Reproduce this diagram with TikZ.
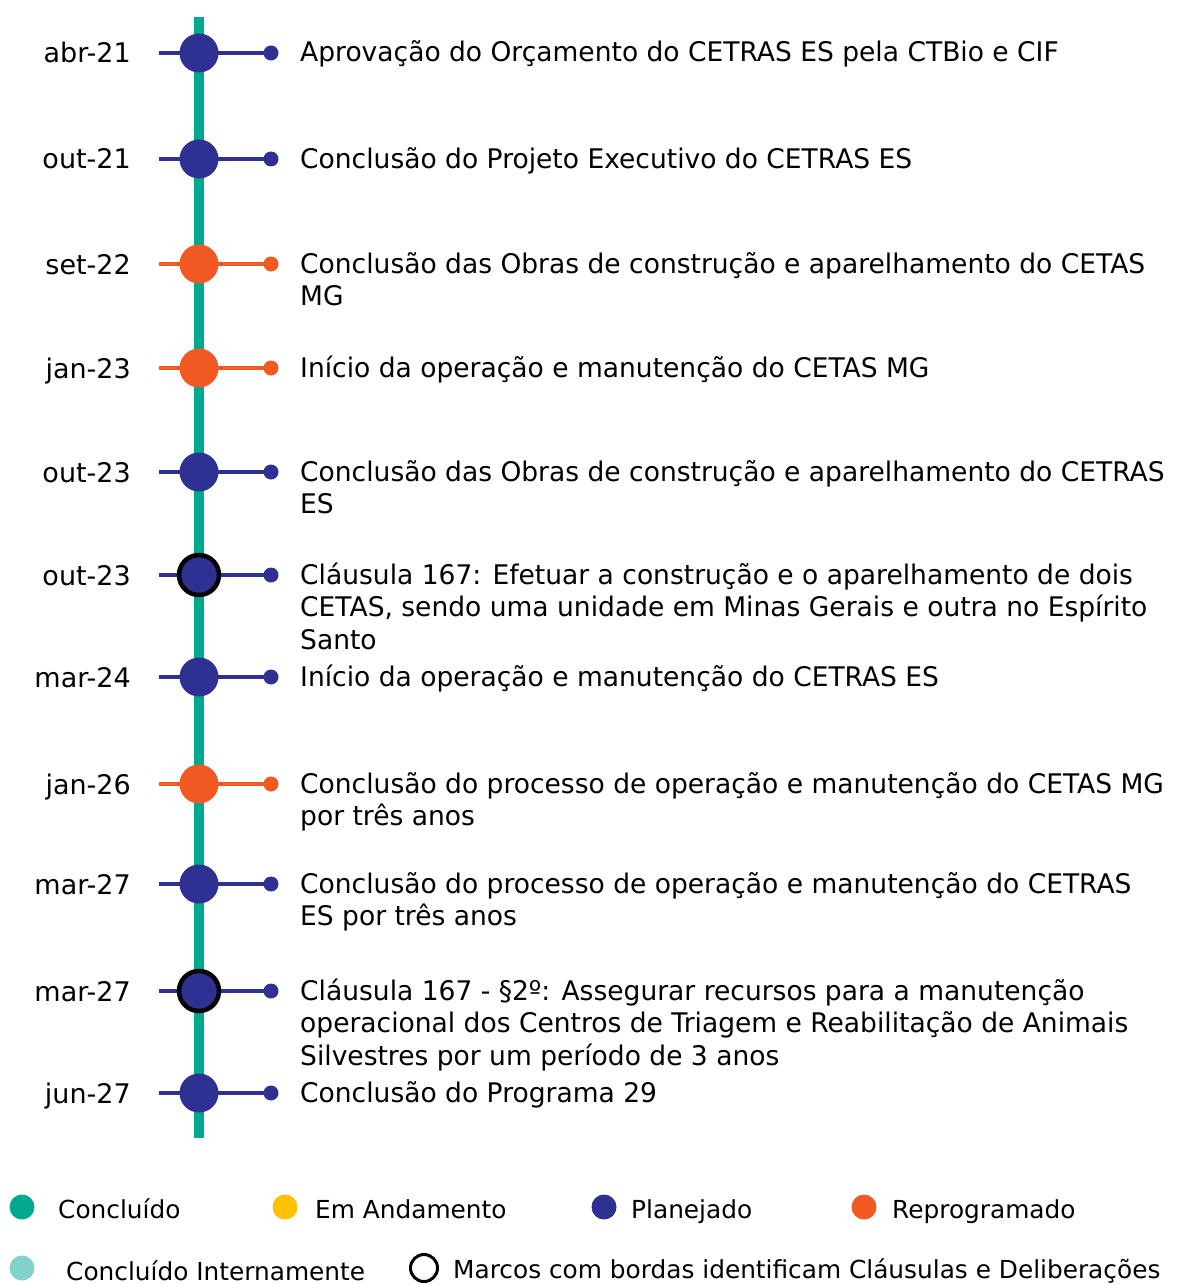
\documentclass[tikz,border=0pt]{standalone}
\usepackage{fontspec}
\setmainfont{DejaVu Sans}
\newfontfamily\txtfont{DejaVu Sans}[FakeStretch=0.982]
\definecolor{plan}{HTML}{2E3192}
\definecolor{repro}{HTML}{F15A22}
\definecolor{concl}{HTML}{00A88F}
\definecolor{conclint}{HTML}{80D3C8}
\definecolor{andam}{HTML}{FFC000}
\tikzset{
  datelbl/.style={anchor=base east, inner sep=0pt, font=\fontsize{27}{33}\selectfont},
  txt/.style={anchor=base west, inner sep=0pt, font=\txtfont\fontsize{27}{32.5}\selectfont},
  bigdot/.style={circle, minimum size=39pt, inner sep=0pt},
  bordered/.style={draw=black, line width=4.5pt, minimum size=40pt},
  enddot/.style={circle, minimum size=15pt, inner sep=0pt},
  hline/.style={line width=4pt},
  legdot/.style={circle, minimum size=25pt, inner sep=0pt},
  legtxt/.style={anchor=base west, inner sep=0pt, font=\fontsize{24.8}{30}\selectfont},
}
\newcommand\mstone[6]{%
  \node[datelbl] (d#1) at (131,#2+10) {#3};
  \coordinate (l#1) at (159,#2);
  \node[enddot,fill=#4] (e#1) at (271,#2) {};
  \draw[hline,#4] (l#1) -- (e#1.center);
  \node[bigdot,fill=#4,#5] (c#1) at (199,#2) {};
  \node[txt] (t#1) at (300,#2+9) {\parbox[t]{870pt}{\raggedright #6}};
}
\begin{document}
\begin{tikzpicture}[x=1pt,y=-1pt]
\useasboundingbox (0,0) rectangle (1177,1284);
\coordinate (top) at (199,17);
\coordinate (bot) at (199,1138);
\draw[concl, line width=10pt] (top) -- (bot);
\mstone{1}{53}{abr-21}{plan}{}{Aprovação do Orçamento do CETRAS ES pela CTBio e CIF}
\mstone{2}{159}{out-21}{plan}{}{Conclusão do Projeto Executivo do CETRAS ES}
\mstone{3}{264}{set-22}{repro}{}{Conclusão das Obras de construção e aparelhamento do CETAS\\MG}
\mstone{4}{368}{jan-23}{repro}{}{Início da operação e manutenção do CETAS MG}
\mstone{5}{472}{out-23}{plan}{}{Conclusão das Obras de construção e aparelhamento do CETRAS\\ES}
\mstone{6}{575}{out-23}{plan}{bordered}{Cláusula 167: Efetuar a construção e o aparelhamento de dois\\CETAS, sendo uma unidade em Minas Gerais e outra no Espírito\\Santo}
\mstone{7}{677}{mar-24}{plan}{}{Início da operação e manutenção do CETRAS ES}
\mstone{8}{784}{jan-26}{repro}{}{Conclusão do processo de operação e manutenção do CETAS MG\\por três anos}
\mstone{9}{884}{mar-27}{plan}{}{Conclusão do processo de operação e manutenção do CETRAS\\ES por três anos}
\mstone{10}{991}{mar-27}{plan}{bordered}{Cláusula 167 - §2º: Assegurar recursos para a manutenção\\operacional dos Centros de Triagem e Reabilitação de Animais\\Silvestres por um período de 3 anos}
\mstone{11}{1093}{jun-27}{plan}{}{Conclusão do Programa 29}
% legend
\node[legdot, fill=concl] (g1) at (22,1207) {};
\node[legtxt] (g1t) at (58,1218) {Concluído};
\node[legdot, fill=andam] (g2) at (285,1207) {};
\node[legtxt] (g2t) at (315,1218) {Em Andamento};
\node[legdot, fill=plan] (g3) at (604,1207) {};
\node[legtxt] (g3t) at (631,1218) {Planejado};
\node[legdot, fill=repro] (g4) at (864,1207) {};
\node[legtxt] (g4t) at (892,1218) {Reprogramado};
\node[legdot, fill=conclint] (g5) at (22,1268) {};
\node[legtxt] (g5t) at (66,1280) {Concluído Internamente};
\node[legdot, draw=black, line width=3pt, minimum size=27pt] (g6) at (424,1268) {};
\node[legtxt] (g6t) at (453,1278) {Marcos com bordas identificam Cláusulas e Deliberações};
\end{tikzpicture}
\end{document}
